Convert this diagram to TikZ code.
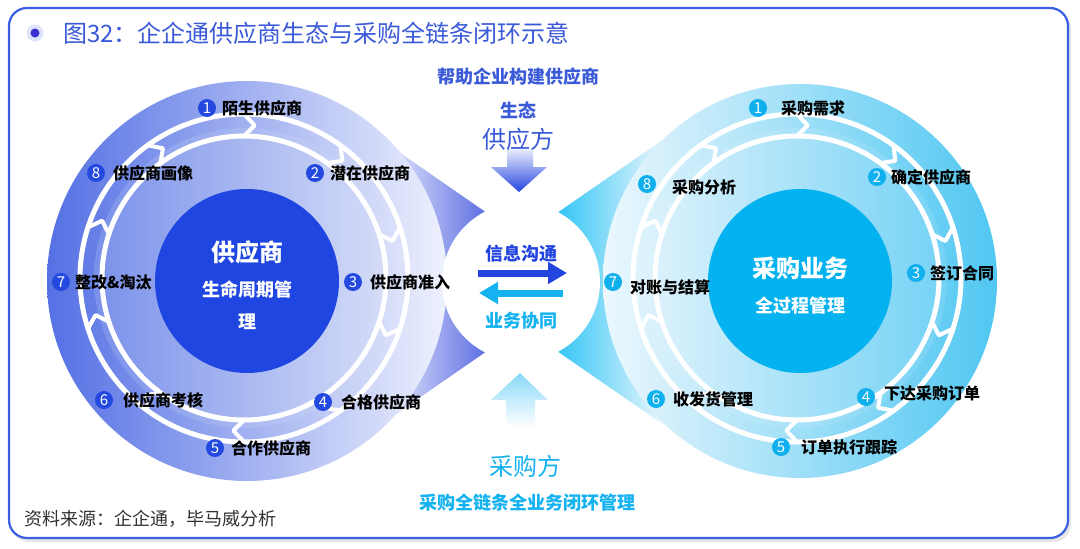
\documentclass[tikz,border=0pt]{standalone}
\usepackage{fontspec}
\setmainfont{Noto Sans CJK SC}
\usepackage{xcolor}
\usetikzlibrary{arrows.meta,positioning}

\definecolor{frameBlue}{HTML}{3B5EE2}
\definecolor{ttlBlue}{HTML}{3A5AD8}
\definecolor{dotBlue}{HTML}{3A2FD0}
\definecolor{lDiskA}{HTML}{5470E4}
\definecolor{lDiskB}{HTML}{EEF1FD}
\definecolor{lInA}{HTML}{7A91EA}
\definecolor{lInB}{HTML}{D8DFF8}
\definecolor{lCore}{HTML}{1F46E1}
\definecolor{lFun}{HTML}{4A5DE0}
\definecolor{rDiskA}{HTML}{ECF7FD}
\definecolor{rDiskB}{HTML}{50C7F2}
\definecolor{rInA}{HTML}{DDF2FC}
\definecolor{rInB}{HTML}{74D2F5}
\definecolor{rCore}{HTML}{04B2EF}
\definecolor{rFun}{HTML}{1CBFF4}
\definecolor{numBlue}{HTML}{2449E0}
\definecolor{numCyan}{HTML}{10B0EE}
\definecolor{arrBlue}{HTML}{2444E0}
\definecolor{arrCyan}{HTML}{14B2F0}

\begin{document}
\begin{tikzpicture}[x=1pt, y=-1pt,
    numl/.style={circle, fill=numBlue, text=white, inner sep=0pt, minimum size=18pt,
      font=\fontsize{15}{15}\selectfont},
    numr/.style={numl, fill=numCyan},
    lbl/.style={anchor=west, inner sep=0pt, font=\bfseries\fontsize{16}{18}\selectfont},
    ring/.style={draw=white, line width=5pt},
    chev/.style={draw=white, line width=4pt, line join=round},
    midtxt/.style={inner sep=0pt, font=\bfseries\fontsize{18}{20}\selectfont},
    bigtxt/.style={inner sep=0pt, font=\fontsize{24}{26}\selectfont},
    >=Stealth]
  \useasboundingbox (0,0) rectangle (1080,549);
  \fill[black!10, rounded corners=18pt] (11,11) rectangle (1071,542);
  \draw[frameBlue, line width=2.2pt, rounded corners=18pt, fill=white] (9,8) rectangle (1068,538);

  \node[circle, fill=numBlue!15, minimum size=17pt, inner sep=0pt] (halo) at (35,33) {};
  \node[circle, fill=dotBlue, minimum size=9pt, inner sep=0pt] (dot) at (halo) {};
  \node[anchor=west, inner sep=0pt, text=ttlBlue, font=\fontsize{24}{27}\selectfont]
    (title) at (63,33) {图32：企企通供应商生态与采购全链条闭环示意};

  \coordinate (lc) at (247,281);
  \coordinate (lr) at (244,278);
  \coordinate (rc) at (800,281);
  \coordinate (rr) at (797,278);

  \shade[left color=lDiskB, right color=lFun] (380,139) -- (500,222) -- (500,342) -- (380,425) -- cycle;
  \shade[left color=rFun, right color=rDiskA] (664,139) -- (544,222) -- (544,342) -- (664,425) -- cycle;

  \shade[left color=lDiskA, right color=lDiskB] (lc) circle (200);
  \shade[left color=lInA, right color=lInB] (lr) circle (150);
  \shade[left color=rDiskA, right color=rDiskB] (rc) circle (197);
  \shade[left color=rInA, right color=rInB] (rr) circle (150);

  \foreach \c in {lr,rr} {
    \draw[ring] (\c) circle (164);
    \draw[ring] (\c) circle (142);
    \foreach \a in {90,54,...,-234}
      \draw[chev, shift={(\c)}] (-\a:164) -- (-\a+4:153) -- (-\a:142);
  }

  \fill[lCore] (lc) circle (92);
  \fill[rCore] (rc) circle (92);

  \node[circle, fill=white, minimum size=158pt, inner sep=0pt] (hub) at (521,282) {};

  \shade[top color=lDiskB, bottom color=arrBlue]
    (507,148) -- (533,148) -- (533,167) -- (547,167) -- (519,192) -- (491,167) -- (507,167) -- cycle;
  \shade[top color=arrCyan!50, bottom color=white]
    (506,427) -- (535,427) -- (535,400) -- (548,400) -- (520,373) -- (491,400) -- (506,400) -- cycle;

  \coordinate (a1) at (478,273);
  \coordinate (a2) at (567,273);
  \coordinate (b1) at (563,293);
  \coordinate (b2) at (479,293);
  \draw[-{Triangle[length=19pt,width=21pt]}, line width=7pt, arrBlue] (a1) -- (a2);
  \draw[-{Triangle[length=19pt,width=21pt]}, line width=7pt, arrCyan] (b1) -- (b2);

  \node[midtxt, text=ttlBlue] (help) at (518,77) {帮助企业构建供应商};
  \node[midtxt, text=ttlBlue] (eco) at (518,110) {生态};
  \node[bigtxt, text=ttlBlue] (sup) at (518,139) {供应方};
  \node[midtxt, text=arrBlue] (info) at (521,254) {信息沟通};
  \node[midtxt, text=arrCyan] (coop) at (521,321) {业务协同};
  \node[bigtxt, text=arrCyan] (buy) at (525,466) {采购方};
  \node[midtxt, text=arrCyan] (loop) at (527,503) {采购全链条全业务闭环管理};

  \node[bigtxt, text=white, font=\bfseries\fontsize{24}{26}\selectfont] (lcore1) at (247,252) {供应商};
  \node[midtxt, text=white] (lcore2) at (247,290) {生命周期管};
  \node[midtxt, text=white] (lcore3) at (247,322) {理};
  \node[bigtxt, text=white, font=\bfseries\fontsize{24}{26}\selectfont] (rcore1) at (800,268) {采购业务};
  \node[midtxt, text=white] (rcore2) at (800,306) {全过程管理};

  \foreach \i/\x/\y/\tx/\ty/\t in {1/207/108/222/108/陌生供应商, 2/315/173/330/173/潜在供应商,
      3/353/282/370/282/供应商准入, 4/323/402/341/402/合格供应商, 5/215/448/231/448/合作供应商,
      6/104/400/123/400/供应商考核, 7/61/282/75/282/整改\&淘汰, 8/96/173/113/173/供应商画像} {
    \node[numl] (nl\i) at (\x,\y) {\i};
    \node[lbl] (tl\i) at (\tx,\ty) {\t};
  }
  \foreach \i/\x/\y/\tx/\ty/\t in {1/758/108/781/108/采购需求, 2/877/177/891/177/确定供应商,
      3/916/273/930/273/签订合同, 4/866/397/884/393/下达采购订单, 5/781/447/801/447/订单执行跟踪,
      6/656/399/673/399/收发货管理, 7/613/282/630/287/对账与结算, 8/647/184/672/187/采购分析} {
    \node[numr] (nr\i) at (\x,\y) {\i};
    \node[lbl] (tr\i) at (\tx,\ty) {\t};
  }

  \node[anchor=west, inner sep=0pt, text=black!80, font=\fontsize{18}{21}\selectfont]
    (src) at (24,519) {资料来源：企企通，毕马威分析};
\end{tikzpicture}
\end{document}
